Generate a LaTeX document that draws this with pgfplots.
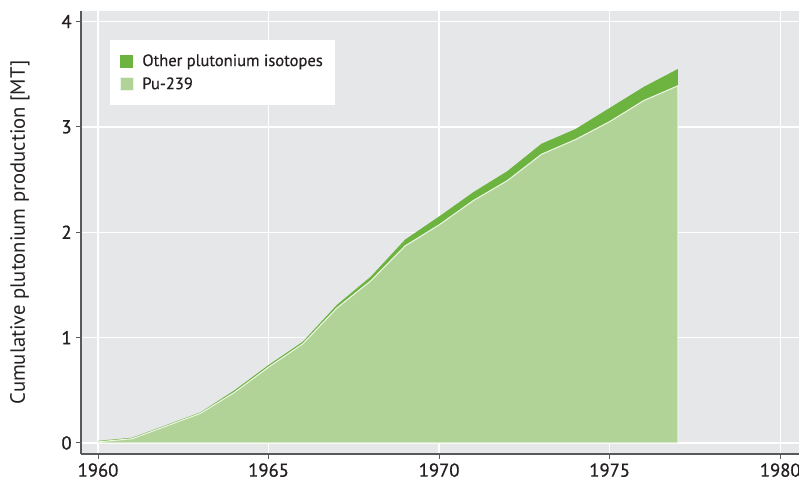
\documentclass[border=0pt]{standalone}
\usepackage{fontspec}
\setmainfont{PT Sans}
\newfontfamily\medfont[FakeBold=0.8]{PT Sans}
\newfontfamily\semifont[FakeBold=0.4]{PT Sans}
\usepackage{pgfplots}
\pgfplotsset{compat=1.18}
\usetikzlibrary{calc}
\definecolor{bggray}{HTML}{E6E7E8}
\definecolor{pulight}{HTML}{B2D397}
\definecolor{pudark}{HTML}{6DB33F}
\definecolor{axgray}{HTML}{58595B}
\definecolor{txt}{HTML}{231F20}
\begin{document}
\begin{tikzpicture}
\begin{axis}[
    scale only axis,
    width=538.5pt, height=332.25pt,
    xmin=1959.5, xmax=1980.55,
    ymin=-0.105, ymax=4.1,
    axis x line=bottom, axis y line=left,
    axis line style={-, draw=axgray, line width=0.8pt},
    axis background/.style={fill=bggray},
    xtick={1960,1965,...,1980},
    ytick={0,1,2,3,4},
    x tick label style={/pgf/number format/1000 sep={}},
    /pgf/number format/assume math mode=true,
    tick align=outside,
    major tick length=3.5pt,
    tick style={draw=axgray, line width=0.7pt},
    grid=major,
    major grid style={draw=white, line width=1pt},
    ticklabel style={text=txt, font=\medfont\fontsize{14}{16}\selectfont},
    ylabel={Cumulative plutonium production [MT]},
    ylabel style={text=txt, font=\fontsize{15.5}{18}\selectfont,
        at={(axis description cs:-0.085,0.5)}, anchor=center},
    stack plots=y,
    reverse legend,
    legend cell align=left,
    legend style={at={(0.0404,0.9345)}, anchor=north west, draw=none, fill=white,
        inner xsep=7pt, inner ysep=8.5pt, row sep=3pt, column sep=4.5pt,
        text=txt, font=\semifont\fontsize{12.4}{14}\selectfont},
    legend image code/.code={\fill[#1] (0pt,-4.9pt) rectangle (9.75pt,4.9pt);},
]
\addplot[fill=pulight, draw=white!75!pulight, line width=0.8pt] coordinates {
    (1960,0.01) (1961,0.04) (1962,0.16) (1963,0.28) (1964,0.48) (1965,0.72)
    (1966,0.94) (1967,1.28) (1968,1.54) (1969,1.87) (1970,2.07) (1971,2.30)
    (1972,2.49) (1973,2.74) (1974,2.88) (1975,3.05) (1976,3.25) (1977,3.39)
} \closedcycle;
\addlegendentry{Pu-239}
\addplot[fill=pudark, draw=none] coordinates {
    (1960,0.01) (1961,0.01) (1962,0.01) (1963,0.01) (1964,0.02) (1965,0.02)
    (1966,0.02) (1967,0.03) (1968,0.04) (1969,0.06) (1970,0.08) (1971,0.08)
    (1972,0.09) (1973,0.10) (1974,0.10) (1975,0.13) (1976,0.13) (1977,0.16)
} \closedcycle;
\addlegendentry{Other plutonium isotopes}
\end{axis}
\pgfresetboundingbox
\path ($(current axis.south west)+(-60.75pt,-26.25pt)$) rectangle ($(current axis.north east)+(0pt,8.25pt)$);
\end{tikzpicture}
\end{document}
